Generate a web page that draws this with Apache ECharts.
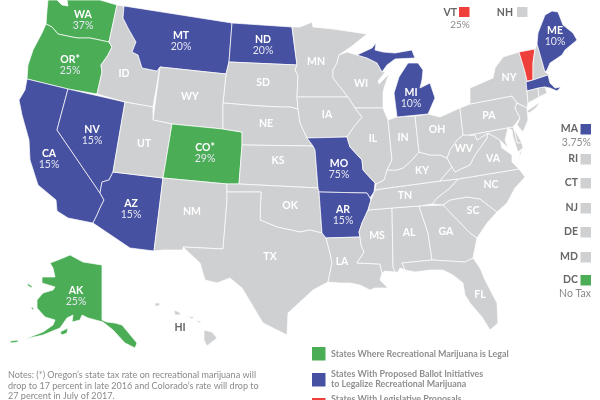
<!DOCTYPE html>
<html>
<head>
<meta charset="utf-8">
<style>html,body{margin:0;padding:0;background:#fff}#chart{width:600px;height:400px}</style>
<script src="https://cdn.jsdelivr.net/npm/echarts@6/dist/echarts.min.js"></script>
</head>
<body>
<div id="chart"></div>
<script>
// tax rate per state
var legalStates = ['WA', 'OR', 'CO', 'AK', 'DC'];
var legalRates = ['37%', '25%', '29%', '25%', 'No Tax'];
var ballotStates = ['CA', 'NV', 'AZ', 'MT', 'ND', 'MO', 'AR', 'MI', 'ME', 'MA'];
var ballotRates = ['15%', '15%', '15%', '20%', '20%', '75%', '15%', '10%', '10%', '3.75%'];
var legislativeStates = ['VT'];
var legislativeRates = ['25%'];
var otherStates = ['ID', 'WY', 'UT', 'SD', 'NE', 'KS', 'NM', 'OK', 'TX', 'MN', 'WI', 'IA', 'IL', 'IN', 'OH', 'KY', 'TN', 'MS', 'AL', 'GA', 'SC', 'NC', 'VA', 'WV', 'PA', 'NY', 'LA', 'FL', 'HI', 'NH', 'RI', 'CT', 'NJ', 'DE', 'MD'];
var starred = ['OR', 'CO'];
var topCallouts = ['VT', 'NH'];
var sideCallouts = ['MA', 'RI', 'CT', 'NJ', 'DE', 'MD', 'DC'];
var legendLabels = [
    ['States Where Recreational Marijuana is Legal'],
    ['States With Proposed Ballot Initiatives', 'to Legalize Recreational Marijuana'],
    ['States With Legislative Proposals']
];
var notes = [
    'Notes: (*) Oregon\u2019s state tax rate on recreational marijuana will',
    'drop to 17 percent in late 2016 and Colorado\u2019s rate will drop to',
    '27 percent in July of 2017.'
];

var GREEN = '#4bae57', BLUE = '#4751a1', RED = '#ee3f3a', GRAY = '#cfd0d2';

// hand traced state outlines, in page pixels
var outlines = {
    WA: [[[48,0],[57,0],[62,5],[68,6],[67,0],[100,0],[117,5],[109,42],[90,38],[78,38],[72,37],[58,34],[52,27],[46,24],[47,10]]],
    OR: [[[46,24],[52,27],[58,34],[72,37],[78,38],[90,38],[109,42],[112,47],[108,55],[101,65],[102,72],[97,94],[68,89],[27,79],[28,65],[33,50],[42,33]]],
    CA: [[[27,79],[68,89],[57,130],[100,193],[104,200],[100,208],[97,215],[93,223],[68,218],[57,211],[56,200],[38,185],[30,160],[29,140],[22,115],[19,100],[25,90]]],
    NV: [[[68,89],[125,102],[113,172],[109,180],[102,182],[100,193],[57,130]]],
    AZ: [[[113,172],[163,178],[154,251],[130,248],[93,223],[97,215],[100,208],[104,200],[100,193],[102,182],[109,180]]],
    ID: [[[117,5],[124,6],[123,18],[128,28],[136,42],[132,52],[138,55],[142,68],[157,71],[160,67],[153,107],[125,102],[97,94],[102,72],[101,65],[108,55],[112,47],[109,42]]],
    MT: [[[124,6],[232,23],[229,62],[226,74],[160,67],[157,71],[142,68],[138,55],[132,52],[136,42],[128,28],[123,18]]],
    ND: [[[232,23],[292,27],[297,65],[229,62]]],
    SD: [[[229,62],[297,65],[295,70],[298,75],[297,97],[298,109],[290,107],[280,107],[260,106],[223,103],[226,74]]],
    WY: [[[160,67],[226,74],[223,103],[223,129],[172,124],[153,120]]],
    UT: [[[125,102],[153,107],[153,120],[172,124],[163,178],[113,172]]],
    CO: [[[172,124],[223,129],[242,132],[242,145],[239,184],[227,184],[163,178]]],
    NE: [[[223,103],[260,106],[280,107],[290,107],[298,109],[300,123],[307,138],[313,146],[242,145],[242,132],[223,129]]],
    KS: [[[242,145],[313,146],[315,150],[318,188],[239,184]]],
    NM: [[[163,178],[227,184],[227,192],[227,200],[223,249],[183,247],[183,250],[163,250],[154,251]]],
    OK: [[[227,184],[239,184],[318,188],[319,192],[322,233],[310,230],[300,232],[277,227],[260,220],[261,192],[227,192]]],
    TX: [[[227,192],[261,192],[260,220],[277,227],[300,232],[310,230],[322,233],[326,238],[330,253],[332,263],[328,282],[313,290],[300,302],[288,313],[287,335],[263,323],[257,313],[242,288],[230,278],[217,283],[205,280],[200,263],[183,247],[223,249],[227,200]]],
    MN: [[[292,27],[300,27],[312,22],[313,27],[333,29],[367,34],[352,46],[339,55],[337,63],[333,70],[333,78],[348,97],[297,97],[298,75],[295,70],[297,65]]],
    WI: [[[339,55],[347,52],[357,55],[367,58],[377,63],[382,72],[386,71],[378,81],[379,84],[389,74],[385,85],[383,92],[383,108],[355,108],[348,97],[333,78],[333,70],[337,63]]],
    IA: [[[297,97],[348,97],[355,108],[362,117],[353,128],[347,137],[307,138],[300,123],[298,109]]],
    MO: [[[307,138],[347,137],[350,147],[362,160],[363,170],[375,183],[374,192],[370,198],[367,193],[319,192],[318,188],[315,150],[313,146]]],
    AR: [[[319,192],[367,193],[370,198],[371,200],[368,210],[362,223],[359,232],[360,237],[326,238],[322,233]]],
    LA: [[[326,238],[360,237],[361,245],[364,252],[357,263],[380,264],[382,273],[380,280],[388,288],[375,288],[370,290],[360,285],[350,283],[340,283],[328,282],[332,263],[330,253]]],
    MS: [[[368,210],[392,208],[393,267],[395,272],[385,271],[382,273],[380,264],[357,263],[364,252],[361,245],[360,237],[359,232],[362,223]]],
    AL: [[[392,208],[419,206],[428,233],[432,260],[402,263],[405,270],[400,268],[398,272],[395,272],[393,267]]],
    GA: [[[419,206],[443,205],[470,233],[477,238],[473,258],[465,262],[432,260],[428,233]]],
    FL: [[[402,263],[432,260],[465,262],[473,258],[480,268],[485,280],[497,303],[498,323],[490,330],[482,317],[470,303],[465,295],[463,283],[453,275],[443,270],[430,270],[415,272],[405,270]]],
    SC: [[[443,205],[450,200],[467,197],[480,199],[497,212],[487,223],[477,238],[470,233]]],
    NC: [[[458,179],[519,169],[525,177],[515,188],[507,203],[497,212],[480,199],[467,197],[450,200],[443,205],[432,204],[437,198],[450,188]]],
    TN: [[[375,190],[388,188],[440,181],[458,179],[450,188],[437,198],[432,204],[419,206],[392,208],[368,210],[371,200]]],
    KY: [[[376,184],[384,180],[387,170],[397,170],[403,168],[410,162],[419,152],[430,155],[440,155],[447,158],[452,167],[445,175],[440,181],[388,188],[375,190]]],
    VA: [
        [[440,181],[445,175],[452,167],[455,172],[463,168],[470,165],[475,155],[487,138],[488,133],[500,140],[502,148],[512,155],[512,162],[519,169],[458,179]],
        [[520,152],[522,150],[519,160]]
    ],
    WV: [[[463,135],[470,135],[475,135],[477,140],[488,133],[487,138],[475,155],[470,165],[463,168],[455,172],[452,167],[447,158],[450,150],[457,140]]],
    IL: [[[355,108],[383,108],[388,120],[392,160],[387,170],[384,180],[376,184],[375,183],[363,170],[362,160],[350,147],[347,137],[353,128],[362,117]]],
    IN: [[[388,120],[397,117],[415,116],[419,152],[410,162],[403,168],[397,170],[387,170],[392,160]]],
    OH: [[[415,116],[428,114],[440,117],[460,108],[463,135],[457,140],[450,150],[447,158],[440,155],[430,155],[419,152]]],
    MI: [
        [[397,117],[394,93],[399,77],[408,63],[418,63],[423,70],[422,80],[420,88],[430,83],[435,98],[428,114]],
        [[357,55],[372,48],[376,43],[375,50],[383,52],[395,53],[412,50],[413,53],[415,58],[395,59],[387,65],[382,72],[377,63],[367,58]]
    ],
    PA: [[[460,108],[470,104],[512,96],[517,103],[515,108],[520,118],[513,127],[470,135],[463,135]]],
    NY: [
        [[470,104],[470,88],[493,78],[495,68],[503,57],[519,52],[525,72],[527,81],[526,82],[527,91],[528,103],[527,108],[517,103],[512,96]],
        [[527,111],[540,102],[536,108],[529,113]]
    ],
    NJ: [[[517,103],[527,108],[528,120],[523,132],[517,125],[520,118],[515,108]]],
    DE: [[[513,127],[522,143],[517,143],[515,133]]],
    MD: [[[470,135],[513,127],[515,133],[517,143],[522,143],[523,148],[518,152],[513,137],[512,130],[508,128],[505,140],[508,148],[500,140],[488,133],[477,140],[475,135]]],
    VT: [[[519,52],[535,49],[533,63],[533,80],[527,81],[525,72]]],
    NH: [[[535,49],[537,44],[545,72],[550,75],[548,75],[533,80],[533,63]]],
    ME: [[[537,44],[538,33],[545,15],[552,11],[558,12],[563,25],[573,33],[577,40],[565,50],[562,55],[550,63],[547,70],[545,72]]],
    MA: [[[526,82],[533,80],[548,75],[550,83],[555,88],[561,87],[557,91],[550,88],[545,87],[527,91]]],
    CT: [[[527,91],[538,88],[539,97],[528,103]]],
    RI: [[[538,88],[545,87],[547,93],[539,97]]],
    AK: [
        [[50,263],[58,260],[70,255],[83,262],[102,265],[102,320],[107,322],[115,323],[122,325],[137,343],[135,348],[125,343],[113,330],[103,322],[88,318],[82,315],[80,320],[72,322],[73,315],[67,318],[60,328],[43,335],[25,339],[43,332],[53,325],[55,320],[45,317],[37,308],[37,300],[43,293],[53,290],[55,287],[42,283],[42,277],[55,277],[53,268]],
        [[27,283],[32,286],[32,288],[28,286]],
        [[30,307],[34,308],[33,310]],
        [[60,332],[68,328],[67,333],[62,335]],
        [[10,341],[18,340],[18,342],[11,343]]
    ],
    HI: [
        [[155,303],[160,303],[159,306],[155,306]],
        [[174,310],[179,312],[181,315],[175,315]],
        [[187,316],[194,317],[192,319]],
        [[196,320],[202,322],[199,323]],
        [[204,330],[212,332],[217,338],[207,346],[204,340]]
    ]
};

// where each state's text sits
var labelPoints = {
    WA:[83,20], OR:[70,65], CA:[49,159], NV:[92,135], AZ:[131,209], MT:[181,41], ND:[263,45], CO:[205,153],
    MO:[339,169], AR:[343,215], MI:[411,98], ME:[555,36], AK:[76,296],
    ID:[124,74], WY:[190,97], UT:[144,144], SD:[263,83], NE:[266,124], KS:[278,161], NM:[192,212], OK:[290,206], TX:[270,257],
    MN:[316,62], WI:[361,84], IA:[327,115], IL:[373,139], IN:[403,138], OH:[437,130], KY:[422,171], TN:[405,196],
    MS:[377,236], AL:[409,233], GA:[446,232], SC:[473,211], NC:[491,185], VA:[493,159], WV:[464,149], PA:[489,116], NY:[509,78],
    LA:[342,262], FL:[480,295], HI:[180,328],
    VT:[527,65], NH:[540,62], MA:[540,84], RI:[542,91], CT:[533,96], NJ:[522,115], DE:[517,137], MD:[490,130]
};

var features = Object.keys(outlines).map(function (code) {
    return {
        type: 'Feature',
        properties: { name: code, cp: labelPoints[code] },
        geometry: {
            type: 'MultiPolygon',
            coordinates: outlines[code].map(function (ring) { return [ring.concat([ring[0]])]; })
        }
    };
});
echarts.registerMap('usa', { type: 'FeatureCollection', features: features });

var rateOf = {}, colorOf = {};
function addGroup(states, rates, color) {
    states.forEach(function (s, i) {
        rateOf[s] = rates ? rates[i] : null;
        colorOf[s] = color;
    });
}
addGroup(legalStates, legalRates, GREEN);
addGroup(ballotStates, ballotRates, BLUE);
addGroup(legislativeStates, legislativeRates, RED);
addGroup(otherStates, null, GRAY);

var mapData = Object.keys(outlines).map(function (s) {
    return {
        name: s,
        value: rateOf[s] ? parseFloat(rateOf[s]) : null,
        itemStyle: { areaColor: colorOf[s] },
        label: s === 'HI' ? { rich: { n: { color: '#666' } } } : undefined
    };
});

var FONT = 'Lato';
var graphics = [];
function addText(text, x, y, align, color, size, weight) {
    graphics.push({
        type: 'text', x: x, y: y, silent: true,
        style: { text: text, fill: color, textAlign: align, textVerticalAlign: 'middle', font: (weight || 'normal') + ' ' + size + 'px ' + FONT }
    });
}
function addSquare(x, y, w, h, color) {
    graphics.push({ type: 'rect', silent: true, shape: { x: x, y: y, width: w, height: h }, style: { fill: color } });
}

// callouts for the states too small to hold text
var topX = { VT: [457, 459, 460], NH: [513, 517, 0] };
topCallouts.forEach(function (s) {
    addText(s, topX[s][0], 13, 'right', '#666', 10.5, 'bold');
    addSquare(topX[s][1], 7, 10.5, 10, colorOf[s]);
    if (rateOf[s]) addText(rateOf[s], topX[s][2], 25, 'center', '#8a8a8a', 10);
});
var sideY = [129, 159, 183, 208, 232, 257, 280];
sideCallouts.forEach(function (s, i) {
    addText(s, 578, sideY[i], 'right', '#666', 10.5, 'bold');
    addSquare(580.5, sideY[i] - 5, 10.5, 10.5, colorOf[s]);
    if (rateOf[s]) addText(rateOf[s], 591, sideY[i] + 13.5, 'right', '#8a8a8a', 10.5);
});

// bottom key
var legendColors = [GREEN, BLUE, RED];
var legendBoxY = [347, 373, 398];
var legendTextY = [354, 374, 399];
legendLabels.forEach(function (lines, i) {
    addSquare(312, legendBoxY[i], 13.5, 13.5, legendColors[i]);
    lines.forEach(function (line, j) {
        addText(line, 331, legendTextY[i] + j * 10.5, 'left', '#8f8f8f', 8.9, 'bold');
    });
});
notes.forEach(function (line, i) {
    addText(line, 8, 375.5 + i * 10.3, 'left', '#8a8a8a', 9.07);
});

var myChart = echarts.init(document.getElementById('chart'));
var option = {
    animation: false,
    backgroundColor: '#fff',
    series: [{
        type: 'map',
        map: 'usa',
        silent: true,
        roam: false,
        left: 0, top: 0, width: 600, height: 400,
        boundingCoords: [[0, 0], [600, 400]],
        projection: {
            project: function (p) { return p; },
            unproject: function (p) { return p; }
        },
        itemStyle: { areaColor: GRAY, borderColor: '#fff', borderWidth: 0.7 },
        label: {
            show: true,
            formatter: function (p) {
                var s = p.name;
                if (topCallouts.indexOf(s) >= 0 || sideCallouts.indexOf(s) >= 0) return '';
                var name = s + (starred.indexOf(s) >= 0 ? '*' : '');
                return rateOf[s] ? '{n|' + name + '}\n{v|' + rateOf[s] + '}' : '{n|' + name + '}';
            },
            rich: {
                n: { color: '#fff', fontFamily: FONT, fontWeight: 'bold', fontSize: 10.5, lineHeight: 11.5 },
                v: { color: '#e6e7f2', fontFamily: FONT, fontSize: 10.5, lineHeight: 11 }
            }
        },
        data: mapData
    }],
    graphic: graphics
};
myChart.setOption(option);
</script>
</body>
</html>
